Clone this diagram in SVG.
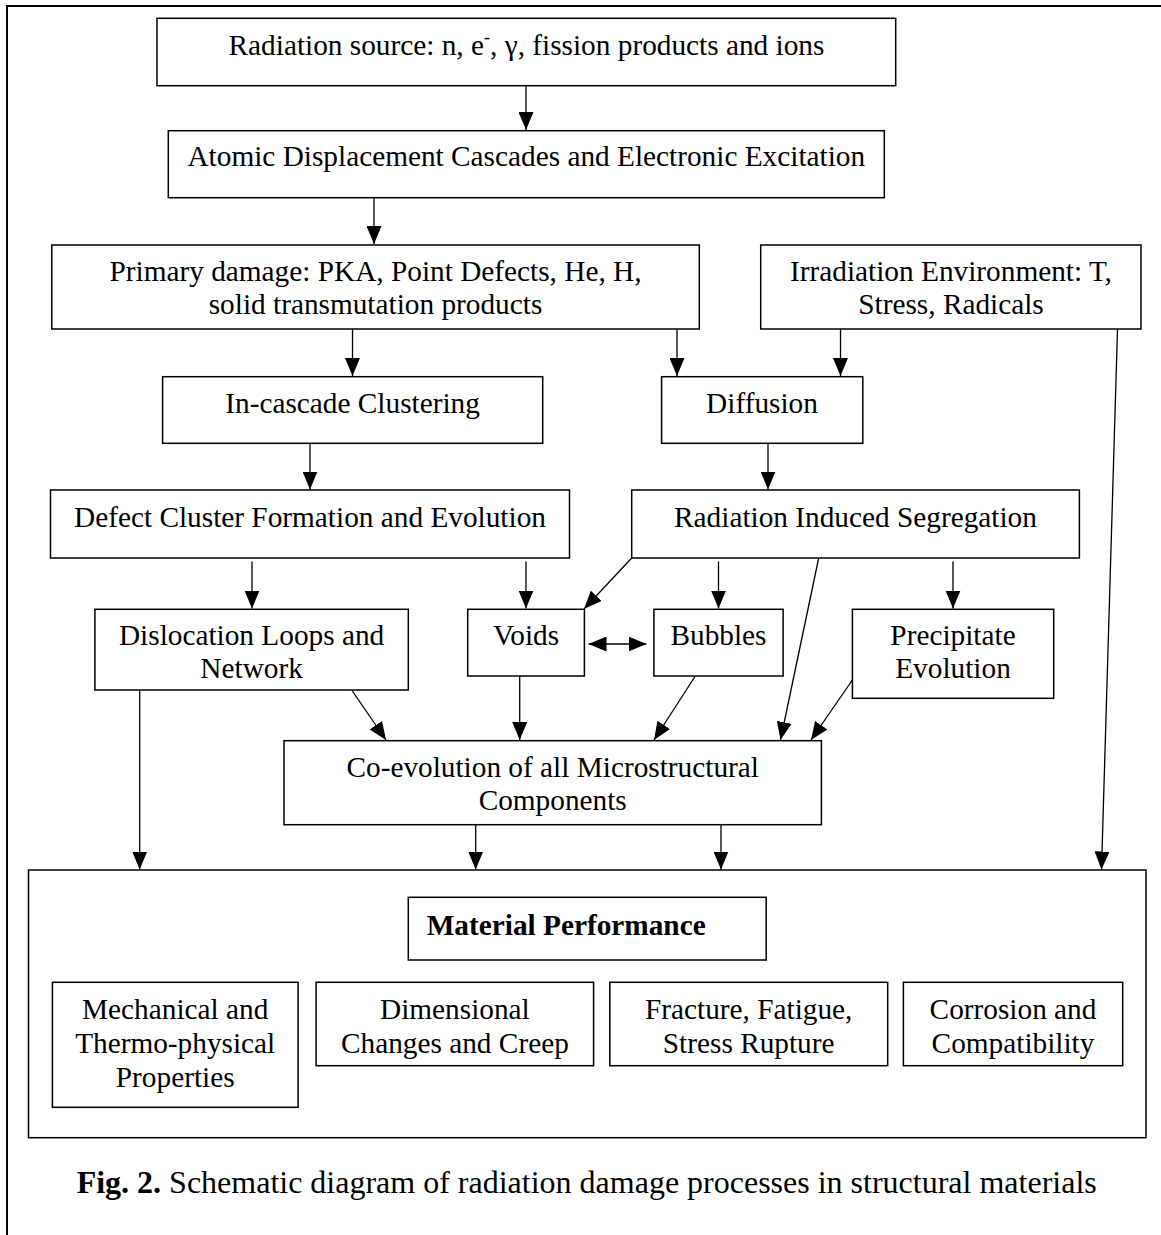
<svg xmlns="http://www.w3.org/2000/svg" width="1161" height="1235" viewBox="0 0 1161 1235">
<style>
.box{fill:#fff;stroke:#000;stroke-width:1.5}
.t{font-family:"Liberation Serif","Times New Roman",serif;font-size:29.3px;fill:#000;text-anchor:middle}
.b{font-weight:bold}
.c{stroke:#000;stroke-width:1.3;fill:none;marker-end:url(#ah)}
.frame{stroke:#000;stroke-width:2;fill:none}
</style>
<defs>
<marker id="ah" markerUnits="userSpaceOnUse" markerWidth="18" markerHeight="15" refX="18" refY="7.5" orient="auto-start-reverse" viewBox="0 0 18 15">
<path d="M0,0 L18,7.5 L0,15 z" fill="#000"/>
</marker>
</defs>
<rect width="1161" height="1235" fill="#fff"/>
<path class="frame" d="M7,1235 L7,6 L1161,6"/>

<g id="connectors">
<line class="c" x1="526" y1="86" x2="526" y2="130"/>
<line class="c" x1="374" y1="198" x2="374" y2="244"/>
<line class="c" x1="352.5" y1="329.5" x2="352.5" y2="376"/>
<line class="c" x1="677" y1="329.5" x2="677" y2="376"/>
<line class="c" x1="840.5" y1="329.5" x2="840.5" y2="376"/>
<line class="c" x1="1117.5" y1="329.5" x2="1101.5" y2="869.5"/>
<line class="c" x1="310" y1="443.5" x2="310" y2="489.5"/>
<line class="c" x1="768" y1="443.5" x2="768" y2="489.5"/>
<line class="c" x1="252" y1="561.5" x2="252" y2="608.5"/>
<line class="c" x1="526" y1="561.5" x2="526" y2="608.5"/>
<line class="c" x1="631.7" y1="558" x2="584" y2="609"/>
<line class="c" x1="718.5" y1="561.5" x2="718.5" y2="608.5"/>
<line class="c" x1="818.7" y1="558" x2="780.5" y2="740"/>
<line class="c" x1="953" y1="561.5" x2="953" y2="608.5"/>
<line class="c" x1="588.5" y1="644" x2="646.5" y2="644" style="marker-start:url(#ah)"/>
<line class="c" x1="352" y1="690.5" x2="386" y2="740"/>
<line class="c" x1="519.7" y1="676" x2="519.7" y2="740"/>
<line class="c" x1="695" y1="676.5" x2="654" y2="740"/>
<line class="c" x1="852.4" y1="680" x2="811" y2="740"/>
<line class="c" x1="139.7" y1="690" x2="139.7" y2="869.5"/>
<line class="c" x1="475.7" y1="824.7" x2="475.7" y2="869.5"/>
<line class="c" x1="721" y1="824.7" x2="721" y2="869.5"/>
</g>

<g id="radiation-source">
<rect class="box" x="157" y="18.3" width="738.7" height="67.4"/>
<text class="t" x="526.5" y="54.5">Radiation source: n, e<tspan font-size="18" dy="-12">-</tspan><tspan dy="12">, γ, fission products and ions</tspan></text>
</g>
<g id="atomic-displacement">
<rect class="box" x="168.3" y="130.7" width="716" height="67"/>
<text class="t" x="526.3" y="165.7">Atomic Displacement Cascades and Electronic Excitation</text>
</g>
<g id="primary-damage">
<rect class="box" x="51.8" y="245" width="647.5" height="84"/>
<text class="t" x="375.5" y="281">Primary damage: PKA, Point Defects, He, H,</text>
<text class="t" x="375.5" y="314.3">solid transmutation products</text>
</g>
<g id="irradiation-environment">
<rect class="box" x="760.7" y="245" width="380.3" height="84"/>
<text class="t" x="951" y="281">Irradiation Environment: T,</text>
<text class="t" x="951" y="314.3">Stress, Radicals</text>
</g>
<g id="in-cascade-clustering">
<rect class="box" x="162.6" y="376.7" width="380.1" height="66.6"/>
<text class="t" x="352.6" y="412.7">In-cascade Clustering</text>
</g>
<g id="diffusion">
<rect class="box" x="661.6" y="376.7" width="201.2" height="66.6"/>
<text class="t" x="762" y="412.7">Diffusion</text>
</g>
<g id="defect-cluster">
<rect class="box" x="50.5" y="490" width="519" height="68"/>
<text class="t" x="310" y="526.7">Defect Cluster Formation and Evolution</text>
</g>
<g id="radiation-induced-segregation">
<rect class="box" x="631.7" y="490" width="447.7" height="68"/>
<text class="t" x="855.5" y="526.7">Radiation Induced Segregation</text>
</g>
<g id="dislocation-loops">
<rect class="box" x="94.9" y="609.3" width="313.4" height="80.7"/>
<text class="t" x="251.6" y="645">Dislocation Loops and</text>
<text class="t" x="251.6" y="678.3">Network</text>
</g>
<g id="voids">
<rect class="box" x="467.7" y="609.3" width="116.7" height="66.7"/>
<text class="t" x="526" y="645">Voids</text>
</g>
<g id="bubbles">
<rect class="box" x="653.9" y="609.3" width="129.2" height="66.7"/>
<text class="t" x="718.5" y="645">Bubbles</text>
</g>
<g id="precipitate-evolution">
<rect class="box" x="852.4" y="609.3" width="201.3" height="89"/>
<text class="t" x="953" y="645">Precipitate</text>
<text class="t" x="953" y="678.3">Evolution</text>
</g>
<g id="co-evolution">
<rect class="box" x="284" y="740.7" width="537.4" height="84"/>
<text class="t" x="552.7" y="776.7">Co-evolution of all Microstructural</text>
<text class="t" x="552.7" y="810">Components</text>
</g>
<g id="material-performance-group">
<rect class="box" x="28.5" y="870" width="1117.5" height="267.7"/>
</g>
<g id="material-performance">
<rect class="box" x="408.3" y="897.3" width="357.9" height="62.7"/>
<text class="t b" x="426.7" y="935" style="text-anchor:start">Material Performance</text>
</g>
<g id="mechanical">
<rect class="box" x="52.4" y="982.3" width="245.7" height="125"/>
<text class="t" x="175.2" y="1018.5">Mechanical and</text>
<text class="t" x="175.2" y="1052.5">Thermo-physical</text>
<text class="t" x="175.2" y="1086.5">Properties</text>
</g>
<g id="dimensional">
<rect class="box" x="316.1" y="982.3" width="277.5" height="83.4"/>
<text class="t" x="454.9" y="1018.5">Dimensional</text>
<text class="t" x="454.9" y="1052.5">Changes and Creep</text>
</g>
<g id="fracture">
<rect class="box" x="609.8" y="982.3" width="277.9" height="83.4"/>
<text class="t" x="748.7" y="1018.5">Fracture, Fatigue,</text>
<text class="t" x="748.7" y="1052.5">Stress Rupture</text>
</g>
<g id="corrosion">
<rect class="box" x="903.4" y="982.3" width="219.3" height="83.4"/>
<text class="t" x="1013" y="1018.5">Corrosion and</text>
<text class="t" x="1013" y="1052.5">Compatibility</text>
</g>
<text class="t" x="586.7" y="1193.3" style="font-size:32px"><tspan class="b">Fig. 2.</tspan> Schematic diagram of radiation damage processes in structural materials</text>
</svg>
